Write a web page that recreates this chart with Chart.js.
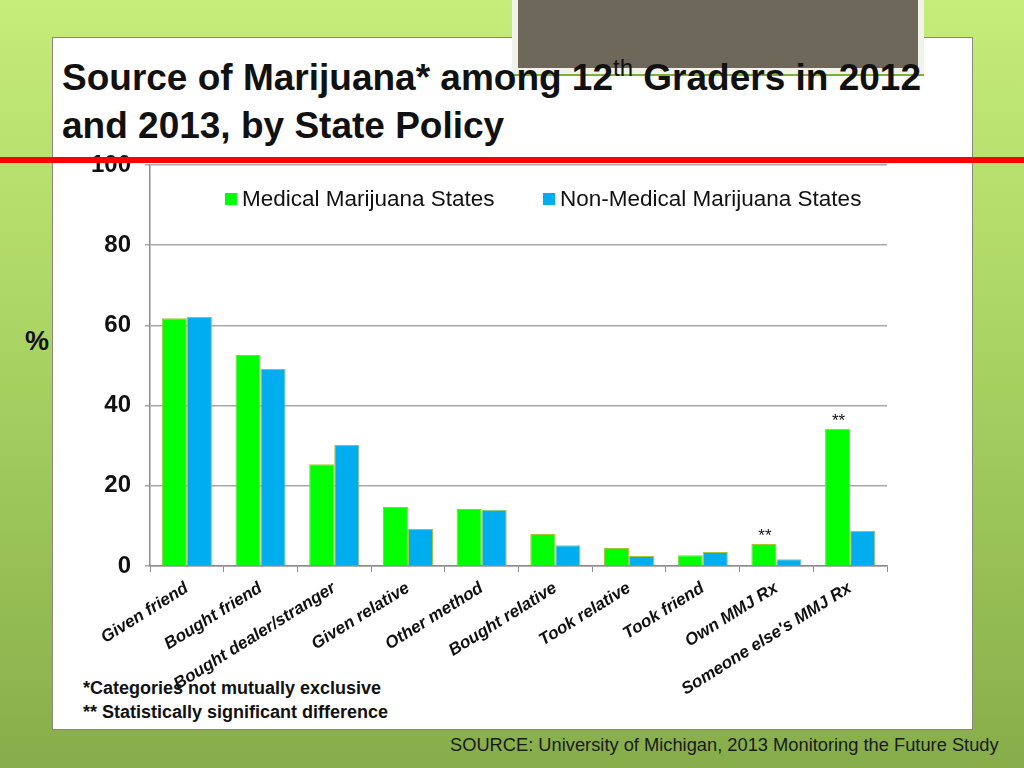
<!DOCTYPE html>
<html>
<head>
<meta charset="utf-8">
<script src="https://cdn.jsdelivr.net/npm/chart.js@4"></script>
<style>
  html, body { margin: 0; padding: 0; }
  body {
    width: 1024px; height: 768px; position: relative; overflow: hidden;
    background: linear-gradient(to bottom, #c6ec7a 0%, #a9d463 45%, #87ad4a 100%);
    font-family: "Liberation Sans", Arial, sans-serif;
  }
  .panel {
    position: absolute; left: 52px; top: 37px; width: 919px; height: 691px;
    background: #fff; border: 1px solid #8a8a7a;
  }
  .photo {
    position: absolute; left: 512px; top: -4px; width: 400px; height: 72px;
    background: #6e685b; border: 6px solid #f2f2ec; border-top: none;
    box-shadow: 0 2px 0 #7fae3a;
  }
  .title {
    position: absolute; left: 62px; top: 54px; width: 900px;
    font-family: "Liberation Sans Narrow", "Liberation Sans", sans-serif;
    font-weight: bold; font-size: 37px; line-height: 48px; color: #111;
    height: 92px; overflow: hidden;
  }
  .title sup { font-size: 24px; font-weight: normal; vertical-align: 14px; line-height: 0; }
  .redline { position: absolute; left: 0; top: 157px; width: 1024px; height: 6px; background: #f00; z-index: 5; }
  .pct { position: absolute; left: 25px; top: 326px; font-weight: bold; font-size: 27px; color: #111; }
  .notes {
    position: absolute; left: 83px; top: 676px; font-weight: bold; font-size: 18px; line-height: 24px;
    font-family: "Liberation Sans Narrow", "Liberation Sans", sans-serif; color: #111;
  }
  .source {
    position: absolute; left: 450px; top: 734px; font-size: 18.3px; color: #1a1a1a;
    font-family: "Liberation Sans Narrow", "Liberation Sans", sans-serif;
  }
  #chart { position: absolute; left: 0; top: 0; z-index: 3; }
</style>
</head>
<body>
<div class="panel"></div>
<div class="photo"></div>
<div class="title">Source of Marijuana* among 12<sup>th</sup> Graders in 2012<br>and 2013, by State Policy</div>
<div class="pct">%</div>
<div class="notes">*Categories not mutually exclusive<br>** Statistically significant difference</div>
<div class="source">SOURCE: University of Michigan, 2013 Monitoring the Future Study</div>
<canvas id="chart" width="1024" height="768"></canvas>
<div class="redline"></div>

<script>
const categories = [
  'Given friend', 'Bought friend', 'Bought dealer/stranger', 'Given relative',
  'Other method', 'Bought relative', 'Took relative', 'Took friend',
  'Own MMJ Rx', "Someone else's MMJ Rx"
];
const medicalStates = [61.8, 52.6, 25.4, 14.7, 14.2, 8.0, 4.5, 2.7, 5.5, 34.2];
const nonMedicalStates = [62.1, 49.1, 30.2, 9.2, 14.0, 5.2, 2.5, 3.5, 1.7, 8.7];
const significant = [8, 9]; // indexes marked with **
const yTicks = [0, 20, 40, 60, 80, 100];

const seriesNames = ['Medical Marijuana States', 'Non-Medical Marijuana States'];
const seriesColors = ['#00ff00', '#00aeef'];

// legend + ** markers drawn over the plot
const overlay = {
  id: 'overlay',
  afterDraw(chart) {
    const ctx = chart.ctx;
    ctx.save();
    ctx.font = '22.5px "Liberation Sans", Arial, sans-serif';
    ctx.textBaseline = 'middle';
    const legendX = [225, 543];
    seriesNames.forEach((name, i) => {
      ctx.fillStyle = seriesColors[i];
      ctx.fillRect(legendX[i], 193, 12, 12);
      ctx.fillStyle = '#111';
      ctx.textAlign = 'left';
      ctx.fillText(name, legendX[i] + 17, 200);
    });

    ctx.font = '17px "Liberation Sans", Arial, sans-serif';
    ctx.textAlign = 'center';
    ctx.textBaseline = 'bottom';
    const meta = chart.getDatasetMeta(0);
    significant.forEach(idx => {
      const bar = meta.data[idx];
      ctx.fillText('**', bar.x + 1, bar.y + 1);
    });
    ctx.restore();
  }
};

new Chart(document.getElementById('chart'), {
  type: 'bar',
  data: {
    labels: categories,
    datasets: [
      {
        label: seriesNames[0],
        data: medicalStates,
        backgroundColor: seriesColors[0],
        borderColor: '#a6c43a',
        borderWidth: 1,
        categoryPercentage: 0.68,
        barPercentage: 1.0
      },
      {
        label: seriesNames[1],
        data: nonMedicalStates,
        backgroundColor: seriesColors[1],
        borderColor: '#a6c43a',
        borderWidth: 1,
        categoryPercentage: 0.68,
        barPercentage: 1.0
      }
    ]
  },
  options: {
    responsive: false,
    animation: false,
    layout: { padding: { left: 60, right: 137, top: 165, bottom: 40 } },
    plugins: { legend: { display: false }, tooltip: { enabled: false } },
    scales: {
      x: {
        afterFit(scale) { scale.height = 162; },
        grid: { drawOnChartArea: false, offset: true, tickLength: 6, color: '#8c8c8c' },
        border: { color: '#8c8c8c', width: 1.5 },
        ticks: {
          autoSkip: false,
          minRotation: 32,
          maxRotation: 32,
          padding: 6,
          color: '#111',
          font: { family: '"Liberation Sans", Arial, sans-serif', size: 17, weight: 'bold', style: 'italic' }
        }
      },
      y: {
        min: 0,
        max: 100,
        afterFit(scale) { scale.width = 90; },
        afterBuildTicks(scale) { scale.ticks = yTicks.map(v => ({ value: v })); },
        grid: { color: '#a8a8a8', lineWidth: 1.5, tickLength: 5 },
        border: { color: '#8c8c8c', width: 1.5 },
        ticks: {
          padding: 14,
          color: '#111',
          font: { family: '"Liberation Sans", Arial, sans-serif', size: 24, weight: 'bold' }
        }
      }
    }
  },
  plugins: [overlay]
});
</script>
</body>
</html>
